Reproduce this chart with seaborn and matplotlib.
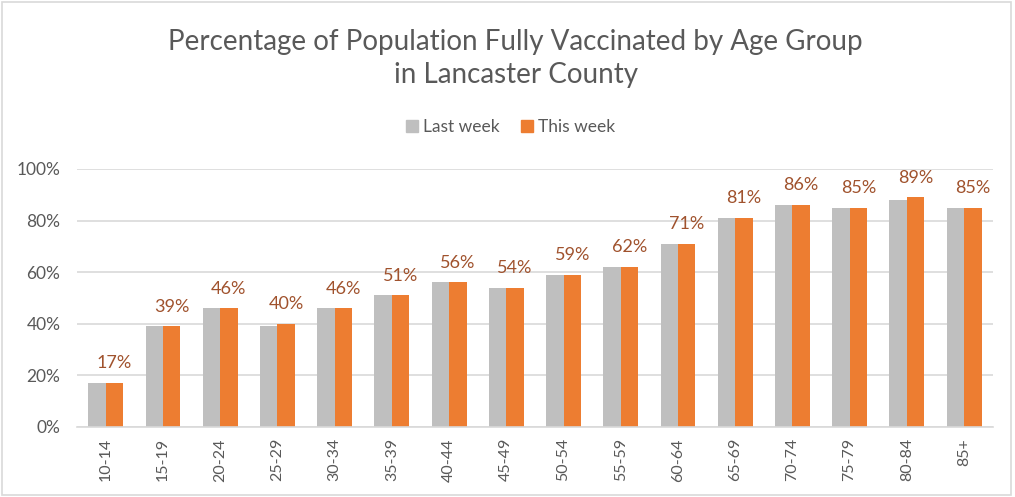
import pandas as pd
import matplotlib.pyplot as plt
import seaborn as sns
from matplotlib.patches import Rectangle
from matplotlib.ticker import PercentFormatter

sns.set_theme(style="white")
plt.rcParams['font.family'] = ['Lato', 'DejaVu Sans']

# Dados
age_groups = ['10-14', '15-19', '20-24', '25-29', '30-34', '35-39', '40-44', '45-49',
              '50-54', '55-59', '60-64', '65-69', '70-74', '75-79', '80-84', '85+']
last_week = [17, 39, 46, 39, 46, 51, 56, 54, 59, 62, 71, 81, 86, 85, 88, 85]
this_week = [17, 39, 46, 40, 46, 51, 56, 54, 59, 62, 71, 81, 86, 85, 89, 85]
series_names = ['Last week', 'This week']

df = pd.DataFrame({
    'grupo': age_groups * 2,
    'valor': last_week + this_week,
    'serie': [series_names[0]] * len(age_groups) + [series_names[1]] * len(age_groups),
})

TEXT = '#595959'
GRID = '#D9D9D9'
colors = {'Last week': '#BFBFBF', 'This week': '#ED7D31'}

fig = plt.figure(figsize=(10.15, 4.97), dpi=100)
ax = fig.add_axes([0.076, 0.141, 0.902, 0.519])

sns.barplot(data=df, x='grupo', y='valor', hue='serie', palette=colors,
            width=0.61, gap=0, ax=ax, legend=False, saturation=1, linewidth=0)

# rótulos sobre as barras laranja
for x, v in enumerate(this_week):
    ax.text(x + 0.1525, v + 4.5, f'{v}%', ha='center', va='bottom',
            fontsize=13, color='#A0522D')

ax.set_ylim(0, 100)
ax.set_xlim(-0.5, len(age_groups) - 0.5)
ax.set_yticks(range(0, 101, 20))
ax.yaxis.set_major_formatter(PercentFormatter(decimals=0))
ax.grid(axis='y', color=GRID, lw=1.2)
ax.set_axisbelow(True)
for s in ['top', 'right', 'left']:
    ax.spines[s].set_visible(False)
ax.spines['bottom'].set_color(GRID)
ax.spines['bottom'].set_linewidth(1.2)
ax.tick_params(axis='x', rotation=90, labelsize=11.5, labelcolor=TEXT, length=0, pad=8)
ax.tick_params(axis='y', labelsize=12.5, labelcolor=TEXT, length=0, pad=12)
ax.set_xlabel('')
ax.set_ylabel('')

fig.text(0.508, 0.882, 'Percentage of Population Fully Vaccinated by Age Group\nin Lancaster County',
         ha='center', va='center', fontsize=20, color=TEXT, linespacing=1.3)

handles = [Rectangle((0, 0), 1, 1, color=colors[n]) for n in series_names]
fig.legend(handles, series_names, loc='center', bbox_to_anchor=(0.503, 0.745), ncol=2,
           frameon=False, fontsize=12.5, labelcolor=TEXT, handlelength=0.7, handleheight=0.7,
           handletextpad=0.3, columnspacing=1.2)

# moldura
fig.patches.append(Rectangle((0.002, 0.004), 0.994, 0.992, transform=fig.transFigure,
                             fill=False, edgecolor=GRID, lw=1.2))

plt.savefig('out.png', dpi=100)
plt.close()
